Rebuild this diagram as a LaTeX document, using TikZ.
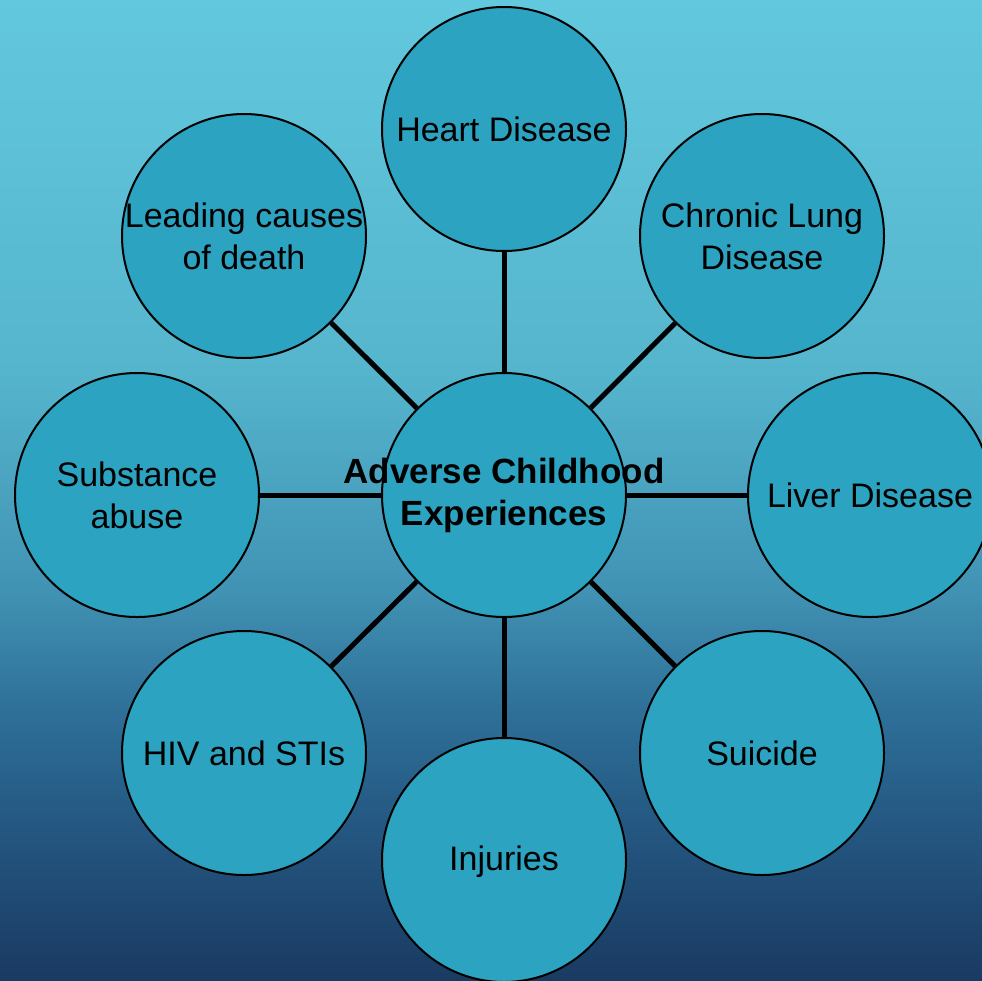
\documentclass[tikz,border=0pt]{standalone}
\usepackage{fontspec}
\setmainfont{Liberation Sans}
\definecolor{bgA}{HTML}{62C8DD}
\definecolor{bgB}{HTML}{55B5CD}
\definecolor{bgC}{HTML}{4193B4}
\definecolor{bgD}{HTML}{2F7199}
\definecolor{bgE}{HTML}{255C86}
\definecolor{bgF}{HTML}{1A3A62}
\definecolor{bubfill}{HTML}{2CA3C0}
\pgfdeclareverticalshading{bgshade}{100bp}{color(0bp)=(bgF); color(25bp)=(bgF); color(34bp)=(bgE); color(39bp)=(bgD); color(45bp)=(bgC); color(56bp)=(bgB); color(75bp)=(bgA); color(100bp)=(bgA)}
\tikzset{
  bub/.style={circle, draw=black, line width=2pt, fill=bubfill, minimum size=244pt, inner sep=0pt},
  txt/.style={font=\fontsize{34}{42}\selectfont, align=center, text=black, inner sep=0pt},
  ctxt/.style={font=\fontsize{35}{42}\selectfont\bfseries, align=center, text=black, inner sep=0pt},
  conn/.style={draw=black, line width=5pt}
}
\begin{document}
\begin{tikzpicture}[x=1pt,y=-1pt]
\useasboundingbox (0,0) rectangle (982,980);
\clip (0,0) rectangle (982,980);
\shade[shading=bgshade] (0,0) rectangle (982,980);
\node[bub] (c) at (504,495) {};
\node[bub] (heart) at (504,129) {};
\node[bub] (lung) at (762,236) {};
\node[bub] (liver) at (870,495) {};
\node[bub] (suic) at (762,753) {};
\node[bub] (inj) at (504,860) {};
\node[bub] (hiv) at (244,753) {};
\node[bub] (subst) at (137,495) {};
\node[bub] (lead) at (244,236) {};
\foreach \n in {heart,lung,liver,suic,inj,hiv,subst,lead}{
  \draw[conn] (c) -- (\n);
}
\node[txt] (theart) at (heart) {Heart Disease};
\node[txt] (tlung) at (lung) {Chronic Lung\\Disease};
\node[txt] (tliver) at (liver) {Liver Disease};
\node[txt] (tsuic) at (suic) {Suicide};
\node[txt] (tinj) at (504,862) {Injuries};
\node[txt] (thiv) at (hiv) {HIV and STIs};
\node[txt] (tsubst) at (subst) {Substance\\abuse};
\node[txt] (tlead) at (lead) {Leading causes\\of death};
\node[ctxt] (tc) at (c) {Adverse Childhood\\Experiences};
\end{tikzpicture}
\end{document}
